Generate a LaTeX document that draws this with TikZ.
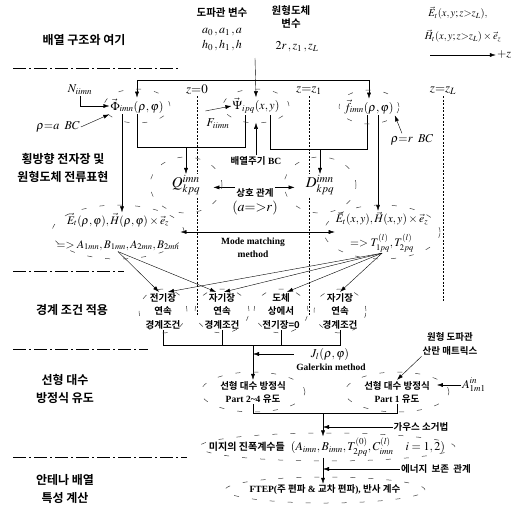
\documentclass[tikz,border=0pt]{standalone}
\usepackage{amsmath}
\usepackage{mathptmx}
\usepackage{fontspec}
\setmainfont{Liberation Serif}
\newfontfamily\krfont{Noto Sans CJK KR}[BoldFont={Noto Sans CJK KR Bold}]
\usetikzlibrary{arrows.meta,positioning}
\newcommand{\ko}[1]{{\krfont\bfseries #1}}

\begin{document}
\begin{tikzpicture}[x=1pt,y=-1pt,
  >={Latex[length=6pt,width=4pt]},
  lab/.style={align=center,font=\fontsize{12}{18}\selectfont\krfont\bfseries},
  cond/.style={align=center,font=\fontsize{9.5}{13.5}\selectfont\krfont\bfseries,inner sep=1pt},
  term/.style={align=center,font=\fontsize{12}{15}\selectfont,inner sep=1pt,fill=white},
  note/.style={align=center,font=\fontsize{9.5}{13}\selectfont\bfseries,inner sep=1pt},
  halo/.style={draw=black!75,line width=0.5pt,dash pattern=on 5pt off 13pt},
  sep/.style={line width=0.9pt,dash pattern=on 13pt off 3pt on 2pt off 3pt},
  zline/.style={line width=1pt,dash pattern=on 2pt off 1.5pt},
  font=\fontsize{11}{13}\selectfont]
\useasboundingbox (0,0) rectangle (516,506);

% stage labels on the left
\node[lab] (lab1) at (84,40) {배열 구조와 여기};
\node[lab] (lab2) at (63,168) {횡방향 전자장 및\\원형도체 전류표현};
\node[lab] (lab3) at (72,310) {경계 조건 적용};
\node[lab] (lab4) at (65,389) {선형 대수\\방정식 유도};
\node[lab] (lab5) at (65,489) {안테나 배열\\특성 계산};
\draw[sep] (13,68) -- (178,68);
\draw[sep] (13,271) -- (124,271);
\draw[sep] (13,349) -- (148,349);
\draw[sep] (13,457) -- (187,457);

% input parameters
\node[cond,font=\fontsize{10.5}{13}\selectfont\krfont\bfseries] (wgt) at (222,13) {도파관 변수};
\node[term,fill=none] (wgv) at (222,40) {$a_0\,,a_1\,,a$\\$h_0\,,h_1\,,h$};
\node[cond,font=\fontsize{10.5}{13}\selectfont\krfont\bfseries] (cdt) at (291,17) {원형도체\\변수};
\node[term,fill=none] (cdv) at (297,47) {$2r\,,z_1\,,z_L$};
\node[term,fill=none,inner sep=0pt,font=\fontsize{10.5}{13}\selectfont] (fE) at (458,13) {$\vec{E}_t(x,y;z{>}z_L),$};
\node[term,fill=none,inner sep=0pt,font=\fontsize{10.5}{13}\selectfont] (fH) at (463,36) {$\vec{H}_t(x,y;z{>}z_L)\times\vec{e}_z$};
\node[term,fill=none] (pz) at (504,55) {$+z$};
\coordinate (zs) at (430,55);
\draw[->] (zs) -- (pz.west);

% reference planes
\node[term,fill=none,font=\fontsize{13}{15}\selectfont] (z0) at (197,90) {$z{=}0$};
\node[term,fill=none,font=\fontsize{13}{15}\selectfont] (zz1) at (309,91) {$z{=}z_1$};
\node[term,fill=none,font=\fontsize{13}{15}\selectfont] (zzL) at (443,91) {$z{=}z_L$};
\draw[zline] (z0.south) -- ++(0,220);
\draw[zline] (zz1.south) -- ++(0,220);
\draw[zline] (zzL.south) -- ++(0,205);

% basis functions
\node[term] (phi) at (137,106) {$\vec{\Phi}_{imn}(\rho,\varphi)$};
\node[term] (psi) at (256,106) {$\vec{\Psi}_{ipq}(x,y)$};
\node[term] (fj) at (369,107) {$\vec{f}_{imn}(\rho,\varphi)$};
\node[term,fill=none] (N) at (80,90) {$N_{iimn}$};
\node[term,fill=none] (rhoa) at (58,127) {$\rho{=}a\;\;BC$};
\node[term,fill=none] (F) at (218,124) {$F_{iimn}$};
\node[term,fill=none] (rhor) at (412,140) {$\rho{=}r\;\;BC$};
\node[note] (pbc) at (256,161) {\ko{배열주기} BC};

\coordinate (src) at (255,58);
\coordinate (bus) at (255,80);
\draw[->] (src) -- (psi.north);
\draw (bus -| phi) -- (bus -| fj);
\draw[->] (bus -| phi) -- (phi.north);
\draw[->] (bus -| fj) -- (fj.north);
\draw[->] (N.south) |- (phi.west);
\draw[->] (rhoa.east) -- (phi.south west);
\draw[->] ([yshift=7pt]F.north west) -- (psi.west);
\draw[->] ([xshift=-10pt]rhor.north) -- (fj.south east);
\draw[->,shorten >=8pt] (pbc.north) -- (psi.south);

% coupling integrals
\node[term,font=\fontsize{15}{17}\selectfont] (Q) at (186,185) {$Q^{imn}_{kpq}$};
\node[term,font=\fontsize{15}{17}\selectfont] (D) at (320,185) {$D^{imn}_{kpq}$};
\node[cond] (rel) at (255,193) {상호 관계};
\node[term,fill=none,font=\fontsize{14}{16}\selectfont] (relx) at (255,208) {$(a{=}{>}r)$};

\coordinate (lvl1) at (0,147);
\coordinate (lvl2) at (0,149);
\draw (phi.south) -- (phi.south |- lvl1) -- ([xshift=-11pt]psi.south |- lvl1) -- ([xshift=-11pt]psi.south);
\draw ([xshift=14pt]psi.south) -- ([xshift=14pt]psi.south |- lvl2) -- ([xshift=-2pt]fj.south |- lvl2) -- ([xshift=-2pt]fj.south);
\draw[->] (Q.north |- lvl1) -- (Q.north);
\draw[->] (D.north |- lvl2) -- (D.north);
\draw[->,shorten >=12pt] (rel.north west) -- (rel.north west -| Q.east);
\draw[->,shorten >=10pt] (rel.north east) -- (rel.north east -| D.west);

% transverse fields
\node[term,font=\fontsize{11.5}{24}\selectfont] (Erp) at (118,232)
  {$\vec{E}_t(\rho,\varphi),\vec{H}(\rho,\varphi)\times\vec{e}_z$\\$=>A_{1mn},B_{1mn},A_{2mn},B_{2mn}$};
\node[term,font=\fontsize{11.5}{24}\selectfont] (Exy) at (382,232)
  {$\vec{E}_t(x,y),\vec{H}(x,y)\times\vec{e}_z$\\$=>T^{(l)}_{1pq},T^{(l)}_{2pq}$};
\node[note] (mm) at (253,248) {Mode matching\\method};
\draw[->] ([xshift=-15pt]phi.south) -- ([xshift=-15pt]phi.south |- Erp.north);
\draw[->] ([xshift=9pt]fj.south) -- ([xshift=9pt]fj.south |- Exy.north);
\draw[<->] (Erp.east) -- (Erp.east -| Exy.west);

% boundary conditions
\node[cond] (b1) at (163,311) {전기장\\연속\\경계조건};
\node[cond] (b2) at (222,311) {자기장\\연속\\경계조건};
\node[cond] (b3) at (281,311) {도체\\상에서\\전기장=0};
\node[cond] (b4) at (340,311) {자기장\\연속\\경계조건};
\draw[->] (Erp.south) -- ([xshift=-4pt]b1.north);
\draw[->] (Erp.south) -- ([xshift=-6pt]b2.north);
\draw[->] (Exy.south) -- ([xshift=5pt]b1.north);
\draw[->] (Exy.south) -- ([xshift=2pt]b2.north);
\draw[->] (Exy.south) -- ([xshift=6pt]b3.north);
\draw[->] (Exy.south) -- (b4.north);

% linear system
\node[term,fill=none] (J) at (330,354) {$J_l(\rho,\varphi)$};
\node[note] (gal) at (331,367) {Galerkin method};
\node[note] (lin1) at (253,392) {\ko{선형 대수 방정식}\\Part 2\textasciitilde4 \ko{유도}};
\node[note] (lin2) at (397,392) {\ko{선형 대수 방정식}\\Part 1 \ko{유도}};
\node[cond] (smat) at (450,344) {원형 도파관\\산란 매트릭스};
\node[term,fill=none] (Ain) at (474,385) {$A^{in}_{1m1}$};

\coordinate (lvl3) at (0,345);
\draw (b1.south) -- (b1.south |- lvl3) -- (b4.south |- lvl3) -- (b4.south);
\draw (b2.south) -- (b2.south |- lvl3);
\draw (b3.south) -- (b3.south |- lvl3);
\draw[->] (lin1.north |- lvl3) -- (lin1.north);
\draw[->,shorten <=16pt] (J.west) -- (J.west -| lin1.north);
\draw[->] (smat.south west) -- (lin2.north);
\draw[->,shorten >=6pt] (Ain.west) -- (Ain.west -| lin2.east);

% solution and results
\node[term,fill=none] (unk) at (327,447)
  {\ko{\fontsize{10}{12}\selectfont 미지의 진폭계수들}\enspace$(A_{imn},B_{imn},T^{(0)}_{2pq},C^{(l)}_{imn}\quad i=1,2)$};
\node[cond] (gauss) at (421,427) {가우스 소거법};
\node[cond] (energy) at (436,469) {에너지\ \ 보존\ \ 관계};
\node[note] (ftep) at (325,490) {FTEP(\ko{주 편파} \& \ko{교차 편파}), \ko{반사 계수}};

\coordinate (lvl4) at (0,413);
\coordinate (mid) at (323,413);
\draw (lin1.south) -- (lin1.south |- lvl4) -- (lin2.south |- lvl4) -- (lin2.south);
\draw[->] (mid) -- (mid |- unk.north);
\draw[->] (gauss.west) -- (gauss.west -| mid);
\draw[->] (unk.south -| mid) -- (ftep.north -| mid);
\draw[->] (energy.west) -- (energy.west -| mid);

% loose dashed outlines
\foreach \n/\rx/\ry in {phi/33/17,psi/33/17,fj/30/17,Q/36/28,D/36/28,Erp/66/27,Exy/58/27,
    b1/24/22,b2/27/22,b3/27/22,b4/26/22,lin1/52/20,lin2/52/20,unk/128/14,ftep/100/13}
  \draw[halo] (\n) ellipse [x radius=\rx pt,y radius=\ry pt];
\end{tikzpicture}
\end{document}
